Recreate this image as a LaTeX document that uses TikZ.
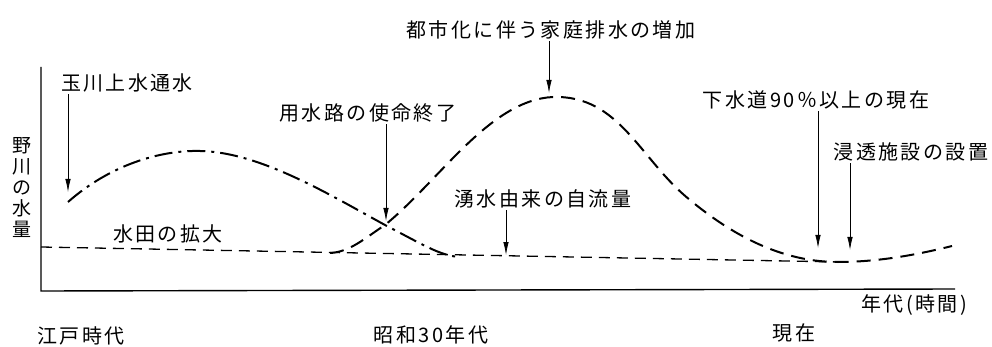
\documentclass[tikz,border=0pt]{standalone}
\usepackage{fontspec}
\setmainfont[LetterSpace=12]{Noto Sans CJK JP}
\usetikzlibrary{arrows.meta}
\usetikzlibrary{calc}

\begin{document}
\begin{tikzpicture}[x=1pt,y=-1pt,
  jtext/.style={font=\fontsize{20}{24}\selectfont, inner sep=2pt},
  pointer/.style={line width=0.8pt,-{Latex[length=13pt,width=5.5pt]}},
  axis/.style={line width=1.4pt},
  tama curve/.style={line width=2pt, dash pattern=on 18pt off 6pt on 3pt off 6pt},
  rise curve/.style={line width=2pt, dash pattern=on 14pt off 8pt},
  spring line/.style={line width=1.3pt, dash pattern=on 11pt off 7pt}]
\useasboundingbox (0,0) rectangle (992,347);

% axes
\draw[axis] (41,67) -- (41,291) -- (955,289);
\node[jtext, align=center, font=\fontsize{19}{21}\selectfont] (ylab) at (22,187) {野\\川\\の\\水\\量};
\node[jtext] (xlab) at (914,305) {年代(時間)};
\node[jtext] (edo) at (81,336) {江戸時代};
\node[jtext] (showa) at (431,335) {昭和30年代};
\node[jtext] (now) at (794,333) {現在};

% base flow from springs
\draw[spring line] (41,247) -- (840,262);
\node[jtext] (paddy) at (168,234) {水田の拡大};

% Tamagawa aqueduct
\draw[tama curve] (68,202) .. controls (110,165) and (160,150) .. (200,151)
  .. controls (260,152) and (330,195) .. (385,225)
  .. controls (420,243) and (440,256) .. (460,257);

% urban drainage
\draw[rise curve] (330,253) .. controls (350,252) and (365,238) .. (385,225)
  .. controls (440,180) and (490,100) .. (553,97)
  .. controls (620,95) and (640,160) .. (690,200)
  .. controls (750,250) and (800,262) .. (838,262)
  .. controls (880,262) and (920,254) .. (952,246);

% labels and pointers
\node[jtext] (tama) at (127,83) {玉川上水通水};
\node[jtext] (urban) at (551,30) {都市化に伴う家庭排水の増加};
\node[jtext] (canal) at (368,113) {用水路の使命終了};
\node[jtext] (spring) at (543,199) {湧水由来の自流量};
\node[jtext] (sewer) at (816,100) {下水道90％以上の現在};
\node[jtext] (infil) at (911,152) {浸透施設の設置};

\coordinate (tamatip) at (68,192);
\coordinate (urbantip) at (549,93);
\coordinate (canaltip) at (386,221);
\coordinate (springtip) at (506,255);
\coordinate (sewertip) at (818,248);
\coordinate (infiltip) at (850,250);

\draw[pointer] (tama.south -| tamatip) -- (tamatip);
\draw[pointer] (urban.south -| urbantip) -- (urbantip);
\draw[pointer] (canal.south -| canaltip) -- (canaltip);
\draw[pointer] (spring.south -| springtip) -- (springtip);
\draw[pointer] (sewer.south -| sewertip) -- (sewertip);
\draw[pointer] (infil.south -| infiltip) -- (infiltip);
\end{tikzpicture}
\end{document}
